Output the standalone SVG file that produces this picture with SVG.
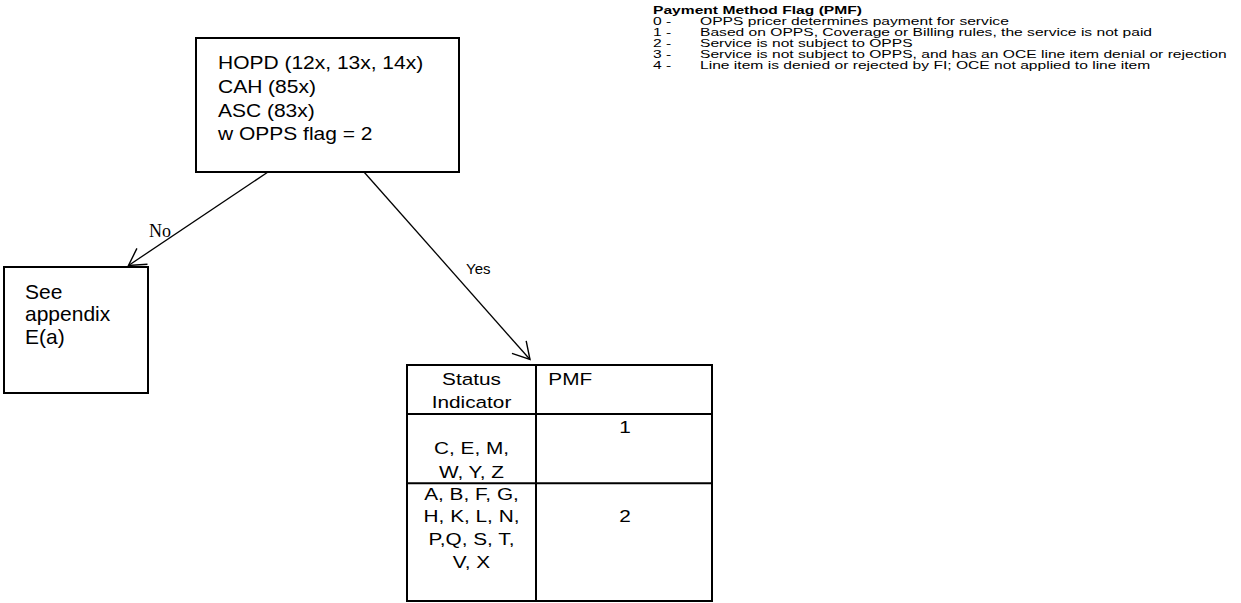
<svg xmlns="http://www.w3.org/2000/svg" width="1241" height="603" viewBox="0 0 1241 603">
<style>
.box{fill:#fff;stroke:#000;stroke-width:2}
.grid{stroke:#000;stroke-width:2;fill:none}
.conn{stroke:#000;stroke-width:1.3;fill:none}
.t{font-family:"Liberation Sans",Arial,sans-serif;fill:#000}
.big{font-size:18.5px}
.left{font-size:20px}
.tab{font-size:16.5px}
.leg{font-size:11px}
.legb{font-size:11px;font-weight:bold}
.no{font-family:"Liberation Serif","Times New Roman",serif;font-size:18px;fill:#000}
.yes{font-size:15px}
</style>
<defs>
<marker id="arr" markerUnits="userSpaceOnUse" markerWidth="40" markerHeight="40" viewBox="-20 -20 40 40" refX="0" refY="0" orient="auto">
<path d="M-16.5,-9.5 L0,0 L-16.5,9.5" fill="none" stroke="#000" stroke-width="1.4"/>
</marker>
</defs>
<rect width="1241" height="603" fill="#fff"/>
<g id="connectors">
<line class="conn" x1="268" y1="172" x2="128.5" y2="265.5" marker-end="url(#arr)"/>
<line class="conn" x1="364" y1="172" x2="530" y2="359.5" marker-end="url(#arr)"/>
<text class="no" x="149" y="237">No</text>
<text class="t yes" x="466" y="274">Yes</text>
</g>
<g id="node-top">
<rect class="box" x="196" y="38" width="263" height="134"/>
<g transform="translate(218,0) scale(1.135,1)">
<text class="t big" x="0" y="69">HOPD (12x, 13x, 14x)</text>
<text class="t big" x="0" y="93.3">CAH (85x)</text>
<text class="t big" x="0" y="116.7">ASC (83x)</text>
<text class="t big" x="0" y="140">w OPPS flag = 2</text>
</g>
</g>
<g id="node-appendix">
<rect class="box" x="4" y="267" width="144" height="126"/>
<g transform="translate(25,0) scale(1.05,1)">
<text class="t left" x="0" y="299">See</text>
<text class="t left" x="0" y="321.5">appendix</text>
<text class="t left" x="0" y="344">E(a)</text>
</g>
</g>
<g id="node-table">
<rect class="box" x="407" y="365" width="305" height="236"/>
<line class="grid" x1="536" y1="365" x2="536" y2="601"/>
<line class="grid" x1="407" y1="414" x2="712" y2="414"/>
<line class="grid" x1="407" y1="483.3" x2="712" y2="483.3"/>
<g transform="translate(471.5,0) scale(1.26,1)" text-anchor="middle">
<text class="t tab" x="0" y="385">Status</text>
<text class="t tab" x="0" y="408.3">Indicator</text>
<text class="t tab" x="0" y="454.3">C, E, M,</text>
<text class="t tab" x="0" y="477.7">W, Y, Z</text>
<text class="t tab" x="0" y="500">A, B, F, G,</text>
<text class="t tab" x="0" y="522.3">H, K, L, N,</text>
<text class="t tab" x="0" y="545">P,Q, S, T,</text>
<text class="t tab" x="0" y="568.3">V, X</text>
</g>
<g transform="translate(548.3,0) scale(1.26,1)">
<text class="t tab" x="0" y="385">PMF</text>
</g>
<g transform="translate(625,0) scale(1.26,1)" text-anchor="middle">
<text class="t tab" x="0" y="433.3">1</text>
<text class="t tab" x="0" y="521.7">2</text>
</g>
</g>
<g id="legend" transform="translate(653,0) scale(1.42,1)">
<text class="t legb" x="0" y="14">Payment Method Flag (PMF)</text>
<text class="t leg" x="0" y="25">0 -</text>
<text class="t leg" x="33.1" y="25">OPPS pricer determines payment for service</text>
<text class="t leg" x="0" y="36">1 -</text>
<text class="t leg" x="33.1" y="36">Based on OPPS, Coverage or Billing rules, the service is not paid</text>
<text class="t leg" x="0" y="47">2 -</text>
<text class="t leg" x="33.1" y="47">Service is not subject to OPPS</text>
<text class="t leg" x="0" y="58">3 -</text>
<text class="t leg" x="33.1" y="58">Service is not subject to OPPS, and has an OCE line item denial or rejection</text>
<text class="t leg" x="0" y="69">4 -</text>
<text class="t leg" x="33.1" y="69">Line item is denied or rejected by FI; OCE not applied to line item</text>
</g>
</svg>
